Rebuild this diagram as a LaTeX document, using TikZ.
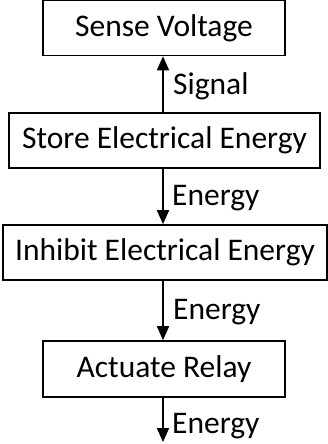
\documentclass[tikz,border=0pt]{standalone}
\usepackage{fontspec}
\setmainfont{Carlito}
\usetikzlibrary{arrows.meta,positioning}
\tikzset{
  >={Triangle[length=14pt,width=12pt]},
  fbox/.style={draw=black,line width=1.6pt,inner sep=0pt,
    minimum height=#1,font=\fontsize{31.5}{36}\selectfont},
  fbox/.default=55pt,
  flow/.style={->,line width=1.6pt},
  tag/.style={font=\fontsize{31.5}{36}\selectfont,anchor=west,inner sep=0pt},
}
\begin{document}
\begin{tikzpicture}[x=1pt,y=-1pt]
  \useasboundingbox (0,0) rectangle (328,444);
  \node[fbox,minimum width=242pt] (sense) at (164,28) {Sense Voltage};
  \node[fbox,minimum width=311pt] (store) at (164.5,140.5) {Store Electrical Energy};
  \node[fbox,minimum width=324pt] (inhibit) at (165,252.5) {Inhibit Electrical Energy};
  \node[fbox=56pt,minimum width=242pt] (relay) at (164,369) {Actuate Relay};
  \coordinate (out) at (163,442);
  \draw[flow] (store.north -| out) -- (sense.south -| out);
  \draw[flow] (store.south -| out) -- (inhibit.north -| out);
  \draw[flow] (inhibit.south -| out) -- (relay.north -| out);
  \draw[flow] (relay.south -| out) -- (out);
  \node[tag] (sig) at (173,86) {Signal};
  \node[tag] (en1) at (172,198) {Energy};
  \node[tag] (en2) at (173,312) {Energy};
  \node[tag] (en3) at (172,426) {Energy};
\end{tikzpicture}
\end{document}
